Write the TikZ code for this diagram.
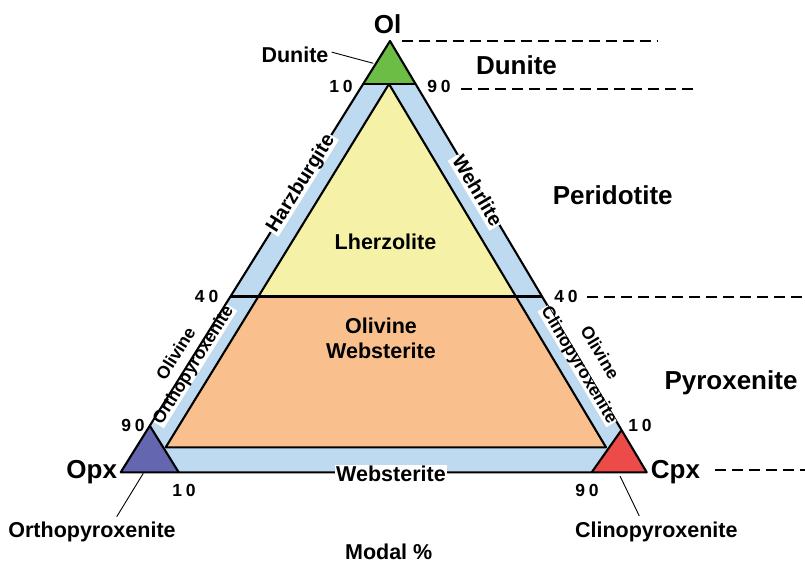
\documentclass[tikz,border=0pt]{standalone}
\usepackage{fontspec}
\setmainfont{Liberation Sans}
\usetikzlibrary{calc}
\definecolor{bandblue}{RGB}{189,218,240}
\definecolor{lherz}{RGB}{245,242,168}
\definecolor{owebs}{RGB}{249,191,140}
\definecolor{olgreen}{RGB}{108,189,69}
\definecolor{opxblue}{RGB}{100,102,176}
\definecolor{cpxred}{RGB}{237,74,74}
\begin{document}
\begin{tikzpicture}[x=1pt,y=-1pt,
  edge/.style={line width=2.1pt,line join=round},
  guide/.style={line width=2pt,dash pattern=on 11pt off 6pt},
  leader/.style={line width=0.9pt},
  big/.style={font=\fontsize{26}{28}\selectfont\bfseries,inner sep=0pt,anchor=base},
  lab/.style={font=\fontsize{21.5}{24.4}\selectfont\bfseries,inner sep=0pt,anchor=base},
  num/.style={font=\fontsize{17.5}{19}\selectfont\bfseries,inner sep=0pt,anchor=base},
  sidelab/.style={font=\fontsize{20}{22}\selectfont\bfseries,inner sep=1.5pt,text height=0.74em,text depth=0.21em},
  smallside/.style={font=\fontsize{17.5}{19}\selectfont\bfseries,inner sep=1.2pt,text height=0.74em,text depth=0.21em},
  outerside/.style={font=\fontsize{17.5}{19}\selectfont\bfseries,inner sep=0pt,text height=0.72em,text depth=0pt},
  whitebg/.style={fill=white}]
\useasboundingbox (0,0) rectangle (805,563);
% vertices
\coordinate (A) at (390,41);
\coordinate (B) at (120.7,472.3);
\coordinate (C) at (646.7,472.3);
\coordinate (I1) at (389,84);
\coordinate (I2) at (165.7,447.3);
\coordinate (I3) at (606,447.3);
\coordinate (L40) at (230.5,296.5);
\coordinate (R40) at (542.1,296.5);
\coordinate (IL40) at (258.4,296.5);
\coordinate (IR40) at (515.9,296.5);
\coordinate (G1) at (363.1,84);
\coordinate (G2) at (415.6,84);
\coordinate (P1) at (149.8,425.7);
\coordinate (P2) at (178.7,472.3);
\coordinate (Q1) at (621.5,430);
\coordinate (Q2) at (591.7,472.3);
% fills
\fill[bandblue] (A)--(B)--(C)--cycle;
\fill[lherz] (I1)--(IL40)--(IR40)--cycle;
\fill[owebs] (IL40)--(I2)--(I3)--(IR40)--cycle;
\fill[olgreen] (A)--(G1)--(G2)--cycle;
\fill[opxblue] (B)--(P1)--(P2)--cycle;
\fill[cpxred] (C)--(Q1)--(Q2)--cycle;
% lines
\draw[edge] (I1)--(I2)--(I3)--cycle;
\draw[edge] (G1)--(G2);
\draw[edge] (L40)--(R40);
\draw[edge] (P1)--(P2);
\draw[edge] (Q1)--(Q2);
\draw[edge] (A)--(B)--(C)--cycle;
% dashed guides
\coordinate (d1a) at (401.7,41);   \coordinate (d1b) at (658,41);
\coordinate (d2a) at (461,89.3);   \coordinate (d2b) at (693,89.3);
\coordinate (d3a) at (587.3,296.7); \coordinate (d3b) at (805,296.7);
\coordinate (d4a) at (715,470);    \coordinate (d4b) at (805,470);
\draw[guide] (d1a)--(d1b);
\draw[guide] (d2a)--(d2b);
\draw[guide] (d3a)--(d3b);
\draw[guide] (d4a)--(d4b);
% vertex labels
\node[big] (ol) at (387.5,33.8) {Ol};
\node[big] (opx) at (91.7,478.3) {Opx};
\node[big] (cpx) at (675.5,478.3) {Cpx};
% class labels
\node[big] (dunbig) at (516.5,74.3) {Dunite};
\node[big] (perid) at (612.7,204.3) {Peridotite};
\node[big] (pyrox) at (731,389.3) {Pyroxenite};
% field labels
\node[lab] (lherzl) at (385.5,249) {Lherzolite};
\node[lab,align=center] (olweb) at (381,358.3) {Olivine\\Websterite};
\node[lab,fill=white,inner sep=1.5pt] (webl) at (391,481.7) {Websterite};
\node[lab] (modal) at (388.7,559.5) {Modal \%};
\node[lab] (dunsm) at (295,62.3) {Dunite};
\node[lab] (orthol) at (92,537.7) {Orthopyroxenite};
\node[lab] (clinol) at (656.3,537.7) {Clinopyroxenite};
% side labels
\node[sidelab,whitebg,rotate=58] (harz) at (303.3,185) {Harzburgite};
\node[sidelab,whitebg,rotate=-59.2] (wehr) at (474,192.5) {Wehrlite};
\node[smallside,whitebg,rotate=58] (ortho) at (195.5,366.3) {Orthopyroxenite};
\node[outerside,rotate=58] (olvl) at (177.8,354.7) {Olivine};
\node[smallside,whitebg,rotate=-59.2] (clino) at (577,366.3) {Clinopyroxenite};
\node[outerside,rotate=-59.2] (olvr) at (598,353.7) {Olivine};
% numbers
\node[num] (n10t) at (341,92.7) {1\hspace{4pt}0};
\node[num] (n90t) at (439,92.7) {9\hspace{4pt}0};
\node[num] (n40l) at (206.7,302.3) {4\hspace{4pt}0};
\node[num] (n40r) at (566,302.3) {4\hspace{4pt}0};
\node[num] (n90l) at (133,431.7) {9\hspace{4pt}0};
\node[num] (n10r) at (640,431.7) {1\hspace{4pt}0};
\node[num] (n10b) at (184,496) {1\hspace{4pt}0};
\node[num] (n90b) at (587,496.5) {9\hspace{4pt}0};
% leader lines
\coordinate (dtip) at (373.3,63.3);
\coordinate (otip) at (143.3,473.3);
\coordinate (ofoot) at (116.7,516.7);
\coordinate (ctip) at (620,476);
\coordinate (cfoot) at (639.3,516);
\draw[leader] ([xshift=3pt,yshift=2.5pt]dunsm.east) -- (dtip);
\draw[leader] (otip) -- (ofoot);
\draw[leader] (ctip) -- (cfoot);
\end{tikzpicture}
\end{document}
